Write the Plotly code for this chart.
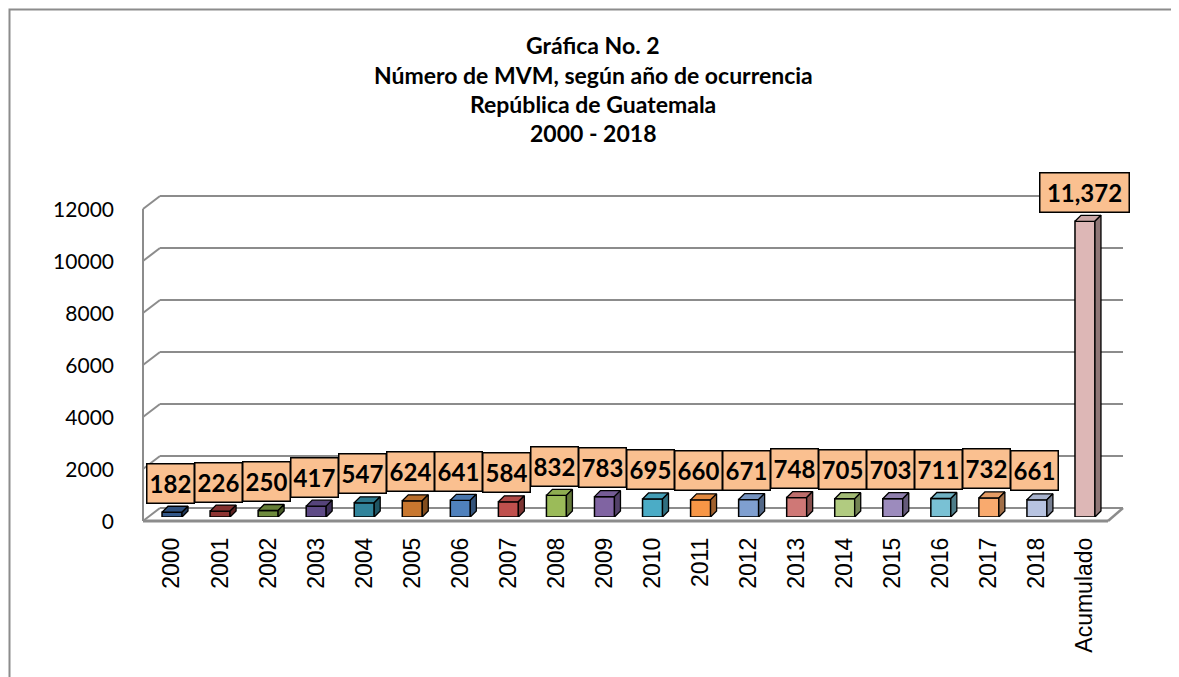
import plotly.graph_objects as go

categories = ["2000", "2001", "2002", "2003", "2004", "2005", "2006", "2007", "2008", "2009",
              "2010", "2011", "2012", "2013", "2014", "2015", "2016", "2017", "2018", "Acumulado"]
values = [182, 226, 250, 417, 547, 624, 641, 584, 832, 783,
          695, 660, 671, 748, 705, 703, 711, 732, 661, 11372]
colors = ["#33588A", "#8E3533", "#6E8B3D", "#5E4A86", "#31849B", "#C8772F",
          "#4F81BD", "#C0504D", "#9BBB59", "#8064A2", "#4BACC6", "#F79646",
          "#7F9FD0", "#CF7876", "#B1CB80", "#9C8BBD", "#79C1D4", "#F9AA6E",
          "#B7C3E0", "#DDB7B6"]
title_lines = ["Gráfica No. 2", "Número de MVM, según año de ocurrencia",
               "República de Guatemala", "2000 - 2018"]
yticks = [0, 2000, 4000, 6000, 8000, 10000, 12000]
ytick_text = ["0", "2000", "4000", "6000", "8000", "10000", "12000"]

# layout geometry (page pixels)
OFF = 8  # default body margin of the html page
FW, FH = 1179, 677
L, R = 148, 1109
T, B = 205, 517
W, H = R - L, B - T
YMAX = 12000
KPX = H / YMAX  # px per unit

def pxx(x):
    return (x - L) / W

def pxy(y):
    return (B - y) / H

def shade(hexc, f):
    h = hexc.lstrip("#")
    r, g, b = (int(h[i:i + 2], 16) for i in (0, 2, 4))
    return "rgb(%d,%d,%d)" % (min(255, r * f), min(255, g * f), min(255, b * f))

n = len(categories)
xs = list(range(n))
bw = 0.416
hw = bw / 2
ddx = 6 * n / W
ddy = 6 / KPX

fig = go.Figure()
fig.add_trace(go.Bar(x=xs, y=values, width=bw, marker=dict(color=colors, line=dict(color="black", width=1.5)),
                     showlegend=False, hoverinfo="x+y"))

for i, v in enumerate(values):
    x0, x1 = i - hw, i + hw
    fig.add_trace(go.Scatter(x=[x0, x1, x1 + ddx, x0 + ddx, x0], y=[v, v, v + ddy, v + ddy, v],
                             mode="lines", fill="toself", fillcolor=shade(colors[i], 0.92),
                             line=dict(color="black", width=1.3), showlegend=False, hoverinfo="skip"))
    fig.add_trace(go.Scatter(x=[x1, x1 + ddx, x1 + ddx, x1, x1], y=[0, ddy, v + ddy, v, 0],
                             mode="lines", fill="toself", fillcolor=shade(colors[i], 0.65),
                             line=dict(color="black", width=1.3), showlegend=False, hoverinfo="skip"))

shapes = []

def line(xa, ya, xb, yb, w=2):
    shapes.append(dict(type="line", xref="paper", yref="paper", x0=pxx(xa), y0=pxy(ya),
                       x1=pxx(xb), y1=pxy(yb), line=dict(color="#8C8C8C", width=w), layer="below"))

for v in yticks[1:]:
    fy = 521 - v * KPX
    by = 508 - v * KPX
    line(143, fy, 160, by)
    line(160, by, 1123, by)
line(143, 521, 143, 521 - YMAX * KPX)
line(143, 521, 1108, 521, 3)
line(160, 508, 1123, 508)
line(143, 521, 160, 508)
line(1108, 521, 1123, 508, 2.5)

# outer frame (left and top edges visible)
shapes.append(dict(type="rect", xref="paper", yref="paper", x0=pxx(9.5), y0=pxy(9.5), x1=pxx(1200), y1=pxy(700),
                   line=dict(color="#8C8C8C", width=2), fillcolor="rgba(0,0,0,0)", layer="below"))

annotations = []
for i, v in enumerate(values):
    wide = v >= 10000
    annotations.append(dict(x=i, y=v, xref="x", yref="y", yshift=29, xshift=(0 if wide else -2),
                            text="<b>%s</b>" % format(v, ","), showarrow=False,
                            font=dict(family="Lato", size=24, color="black"),
                            bgcolor="#FAC090", bordercolor="black", borderwidth=1.5, borderpad=0,
                            width=(88 if wide else 46), height=38, xanchor="center", yanchor="middle"))

title_y = [45, 75, 104, 133]
for t, yy in zip(title_lines, title_y):
    annotations.append(dict(x=pxx(593), y=pxy(yy), xref="paper", yref="paper", text="<b>%s</b>" % t,
                            showarrow=False, font=dict(family="Lato", size=23, color="black"),
                            xanchor="center", yanchor="middle"))

fig.update_layout(
    width=FW - OFF, height=FH - OFF,
    margin=dict(l=L - OFF, r=FW - R, t=T - OFF, b=FH - B),
    paper_bgcolor="white", plot_bgcolor="white",
    shapes=shapes, annotations=annotations,
    xaxis=dict(range=[-0.5, n - 0.5], tickmode="array", tickvals=xs, ticktext=categories,
               tickangle=-90, showgrid=False, zeroline=False, showline=False, ticks="",
               ticklabelstandoff=15, tickfont=dict(family="Liberation Sans", size=23, color="black")),
    yaxis=dict(range=[0, YMAX], tickmode="array", tickvals=yticks, ticktext=ytick_text,
               showgrid=False, zeroline=False,
               showline=False, ticks="", ticklabelstandoff=33, ticklabelshift=5,
               tickfont=dict(family="Lato", size=21, color="black")),
)

fig.write_html("out.html")
